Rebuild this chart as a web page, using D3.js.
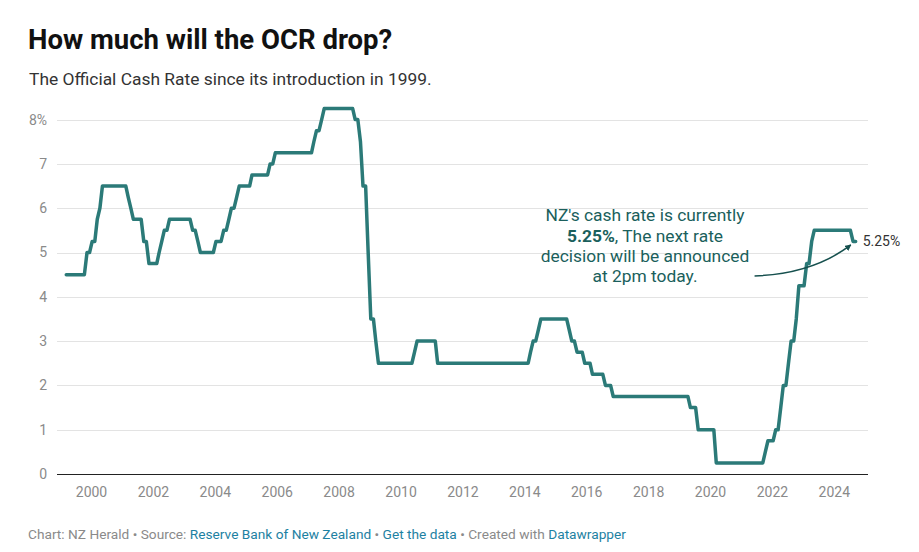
<!DOCTYPE html>
<html>
<head>
<meta charset="utf-8">
<script src="https://cdn.jsdelivr.net/npm/d3@7/dist/d3.min.js"></script>
<style>
  html, body { margin: 0; padding: 0; background: #fff; }
  body { width: 919px; height: 552px; overflow: hidden; font-family: Roboto, "Noto Sans", sans-serif; }
  svg text { font-family: Roboto, "Noto Sans", sans-serif; }
</style>
</head>
<body>
<svg id="chart" width="919" height="552"></svg>
<script>
// ---- Data: monthly OCR (vertices of the monthly line, where the slope changes) ----
const months = ["1999-03","1999-10","1999-11","1999-12","2000-01","2000-02","2000-03","2000-04","2000-05","2001-02","2001-03","2001-04","2001-05","2001-08","2001-09","2001-10","2001-11","2002-02","2002-03","2002-04","2002-05","2002-06","2002-07","2003-03","2003-04","2003-05","2003-06","2003-07","2003-12","2004-01","2004-03","2004-04","2004-05","2004-06","2004-07","2004-08","2004-09","2004-10","2005-02","2005-03","2005-09","2005-10","2005-11","2005-12","2007-02","2007-03","2007-04","2007-05","2007-06","2007-07","2008-06","2008-07","2008-08","2008-09","2008-10","2008-11","2008-12","2009-01","2009-02","2009-03","2009-04","2010-05","2010-06","2010-07","2011-02","2011-03","2014-02","2014-03","2014-04","2014-05","2014-06","2014-07","2015-05","2015-06","2015-07","2015-08","2015-09","2015-11","2015-12","2016-02","2016-03","2016-07","2016-08","2016-10","2016-11","2019-04","2019-05","2019-07","2019-08","2020-02","2020-03","2021-09","2021-10","2021-11","2022-01","2022-02","2022-03","2022-04","2022-05","2022-06","2022-07","2022-08","2022-09","2022-10","2022-11","2023-01","2023-02","2023-03","2023-04","2023-05","2024-07","2024-08","2024-09"];
const rates = [4.5,4.5,5.0,5.0,5.25,5.25,5.75,6.0,6.5,6.5,6.25,6.0,5.75,5.75,5.25,5.25,4.75,4.75,5.0,5.25,5.5,5.5,5.75,5.75,5.5,5.5,5.25,5.0,5.0,5.25,5.25,5.5,5.5,5.75,6.0,6.0,6.25,6.5,6.5,6.75,6.75,7.0,7.0,7.25,7.25,7.5,7.75,7.75,8.0,8.25,8.25,8.0,8.0,7.5,6.5,6.5,5.0,3.5,3.5,3.0,2.5,2.5,2.75,3.0,3.0,2.5,2.5,2.75,3.0,3.0,3.25,3.5,3.5,3.25,3.0,3.0,2.75,2.75,2.5,2.5,2.25,2.25,2.0,2.0,1.75,1.75,1.5,1.5,1.0,1.0,0.25,0.25,0.5,0.75,0.75,1.0,1.0,1.5,2.0,2.0,2.5,3.0,3.0,3.5,4.25,4.25,4.75,4.75,5.25,5.5,5.5,5.25,5.25];

const yTicks = [0,1,2,3,4,5,6,7,8];
const xTickYears = [2000,2002,2004,2006,2008,2010,2012,2014,2016,2018,2020,2022,2024];

const titleText = "How much will the OCR drop?";
const subtitleText = "The Official Cash Rate since its introduction in 1999.";
const annotationLines = [
  [{t:"NZ's cash rate is currently", b:false}],
  [{t:"5.25%", b:true},{t:", The next rate", b:false}],
  [{t:"decision will be announced", b:false}],
  [{t:"at 2pm today.", b:false}]
];
const lastLabel = "5.25%";

// ---- Chart ----
const svg = d3.select("#chart");
const parseMonth = d3.utcParse("%Y-%m");
const data = months.map((m,i) => {
  const d = parseMonth(m);
  return { date: new Date(Date.UTC(d.getUTCFullYear(), d.getUTCMonth(), 15)), value: rates[i] };
});

const plotLeft = 57, plotRight = 868;
const x = d3.scaleUtc()
  .domain([new Date(Date.UTC(2000,0,1)), new Date(Date.UTC(2024,0,1))])
  .range([91, 833.8]);
const y = d3.scaleLinear().domain([0,8]).range([474, 119.6]);

// Title / subtitle
svg.append("text").attr("x", 28).attr("y", 48.5)
  .attr("font-size", 27.5).attr("font-weight", 700).attr("fill", "#111")
  .text(titleText);
svg.append("text").attr("x", 29).attr("y", 84.5)
  .attr("font-size", 17.4).attr("fill", "#333")
  .text(subtitleText);

// Gridlines
const grid = svg.append("g");
grid.selectAll("line").data(yTicks.filter(d => d !== 0)).join("line")
  .attr("x1", plotLeft).attr("x2", plotRight)
  .attr("y1", d => Math.round(y(d)) + 0.5).attr("y2", d => Math.round(y(d)) + 0.5)
  .attr("stroke", "#e3e3e3").attr("stroke-width", 1);

// Y labels
svg.append("g").selectAll("text").data(yTicks).join("text")
  .attr("x", 47).attr("y", d => y(d)).attr("dy", "0.35em")
  .attr("text-anchor", "end").attr("font-size", 14).attr("fill", "#8a8a8a")
  .text(d => d === 8 ? d + "%" : d);

// Baseline
svg.append("line")
  .attr("x1", plotLeft).attr("x2", plotRight)
  .attr("y1", Math.round(y(0)) + 0.5).attr("y2", Math.round(y(0)) + 0.5)
  .attr("stroke", "#222").attr("stroke-width", 1.2);

// X axis
const xAxis = d3.axisBottom(x)
  .tickValues(xTickYears.map(yr => new Date(Date.UTC(yr,0,1))))
  .tickFormat(d3.utcFormat("%Y"))
  .tickSize(0).tickPadding(0);
const xg = svg.append("g").attr("transform", `translate(0,${y(0)})`).call(xAxis);
xg.select(".domain").remove();
xg.selectAll("text").attr("y", 23).attr("dy", 0)
  .attr("font-size", 14).attr("fill", "#8a8a8a").attr("font-family", "Roboto, sans-serif");

// Line
const line = d3.line().x(d => x(d.date)).y(d => y(d.value)).curve(d3.curveLinear);
svg.append("path").datum(data)
  .attr("d", line)
  .attr("fill", "none").attr("stroke", "#2b7a78").attr("stroke-width", 3.5)
  .attr("stroke-linejoin", "round").attr("stroke-linecap", "round");

// Last value label
const last = data[data.length - 1];
svg.append("text").attr("x", x(last.date) + 7).attr("y", y(last.value)).attr("dy", "0.35em")
  .attr("font-size", 14).attr("fill", "#333").text(lastLabel);

// Annotation text
const annX = x(new Date(Date.UTC(2017,10,25)));
const ann = svg.append("g").attr("fill", "#1b5f5c");
annotationLines.forEach((parts, i) => {
  const t = ann.append("text").attr("x", annX).attr("y", y(5.70) + i * 20.3)
    .attr("text-anchor", "middle").attr("font-size", 17.4);
  parts.forEach(p => t.append("tspan").attr("font-weight", p.b ? 700 : 400).text(p.t));
});

// Arrow
const defs = svg.append("defs");
defs.append("marker").attr("id", "ah").attr("viewBox", "0 0 10 10")
  .attr("refX", 9).attr("refY", 5).attr("markerWidth", 4.2).attr("markerHeight", 4.2)
  .attr("orient", "auto").attr("markerUnits", "strokeWidth")
  .append("path").attr("d", "M0,0 L10,5 L0,10 z").attr("fill", "#16504e");
const a0 = [x(new Date(Date.UTC(2021,5,10))), y(4.47)];
const a1 = [x(new Date(Date.UTC(2024,6,20))), y(5.17)];
const p = d3.path();
p.moveTo(a0[0], a0[1]);
p.quadraticCurveTo((a0[0]+a1[0])/2 + 10, a0[1] - 2, a1[0], a1[1]);
svg.append("path").attr("d", p.toString())
  .attr("fill", "none").attr("stroke", "#16504e").attr("stroke-width", 1.5)
  .attr("marker-end", "url(#ah)");

// Footer
const foot = svg.append("text").attr("x", 28).attr("y", 538.5).attr("font-size", 13.7);
[["Chart: NZ Herald • Source: ", "#8a8a8a"], ["Reserve Bank of New Zealand", "#1d81a2"],
 [" • ", "#8a8a8a"], ["Get the data", "#1d81a2"], [" • Created with ", "#8a8a8a"], ["Datawrapper", "#1d81a2"]]
  .forEach(([t, c]) => foot.append("tspan").attr("fill", c).text(t));
</script>
</body>
</html>
